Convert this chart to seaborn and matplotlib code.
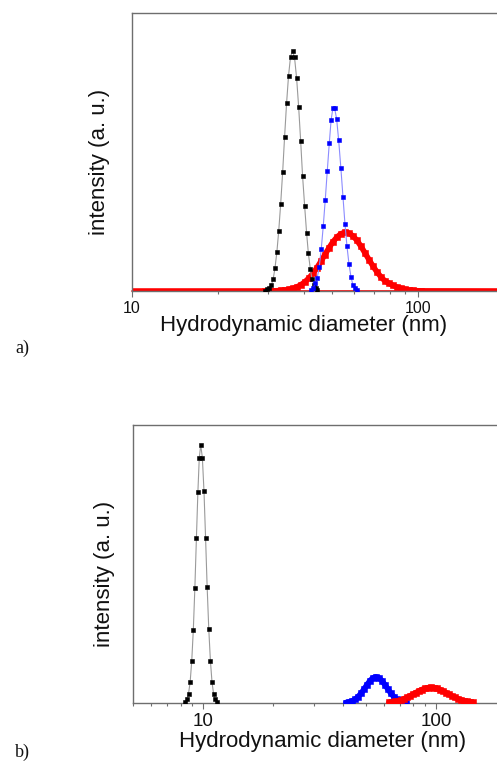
import numpy as np
import pandas as pd
import matplotlib
matplotlib.use("Agg")
import matplotlib.pyplot as plt
import seaborn as sns

# ---------------- data: panel a ----------------
black_a_d = [29.24, 29.72, 30.20, 30.69, 31.16, 31.62, 32.11, 32.60, 33.11, 33.64,
             34.17, 34.72, 35.28, 35.85, 36.43, 37.02, 37.65, 38.27, 38.89, 39.49,
             40.16, 40.81, 41.38, 42.02, 42.63, 43.30, 43.89, 44.53]
black_a_i = [0.1, 0.54, 0.97, 1.98, 4.21, 8.17, 13.96, 21.7, 31.3, 42.7,
             55.4, 67.5, 77.5, 84.3, 86.4, 84.0, 76.5, 66.2, 54.0, 41.5,
             30.6, 20.7, 13.6, 8.06, 4.21, 2.16, 0.9, 0.25]

blue_a_d = [42.36, 43.05, 43.74, 44.45, 45.18, 45.91, 46.66, 47.42, 48.19, 48.97,
            49.69, 50.40, 51.14, 51.97, 52.81, 53.75, 54.68, 55.56, 56.46, 57.38,
            58.31, 59.26, 60.23, 61.21]
blue_a_i = [0.3, 0.97, 2.9, 4.7, 8.8, 15.1, 23.4, 32.9, 43.2, 53.1,
            61.4, 65.7, 65.7, 61.8, 54.3, 44.4, 33.9, 24.2, 16.2, 9.8,
            5.1, 2.16, 0.9, 0.3]

red_a_d = [10.0, 29.17, 30.13, 31.12, 32.14, 33.19, 34.28, 35.40, 36.55, 37.75,
           38.99, 40.26, 41.58, 42.95, 44.36, 45.80, 47.30, 48.85, 50.45, 52.10,
           53.81, 55.57, 57.37, 59.26, 61.20, 63.18, 65.27, 67.41, 69.62, 71.89,
           74.24, 76.67, 79.18, 81.77, 84.45, 87.22, 90.05, 93.00, 96.05, 99.20,
           102.4, 200.0]
red_a_i = [0.0, 0.01, 0.03, 0.05, 0.10, 0.19, 0.33, 0.57, 0.93, 1.47,
           2.24, 3.29, 4.66, 6.37, 8.40, 10.68, 13.1, 15.5, 17.7, 19.4,
           20.6, 21.1, 20.8, 19.8, 18.2, 16.1, 13.7, 11.3, 8.95, 6.85,
           5.06, 3.6, 2.8, 2.0, 1.4, 0.95, 0.6, 0.35, 0.2, 0.1,
           0.05, 0.0]

# ---------------- data: panel b ----------------
black_b_d = [8.39, 8.52, 8.66, 8.80, 8.94, 9.08, 9.22, 9.36, 9.50, 9.63,
             9.77, 9.93, 10.09, 10.25, 10.41, 10.58, 10.75, 10.92, 11.09, 11.28,
             11.46]
black_b_i = [0.3, 1.3, 3.4, 7.6, 15.2, 26.4, 41.5, 59.2, 76.0, 88.2,
             92.8, 88.2, 76.1, 59.3, 41.7, 26.5, 15.2, 7.6, 3.35, 1.33,
             0.36]

blue_b_d = [41.09, 42.33, 43.61, 44.93, 46.27, 47.66, 49.09, 50.57, 52.09, 53.66,
            55.27, 56.93, 58.65, 60.41, 62.23, 64.11, 66.03, 68.02, 70.06, 72.18,
            74.33]
blue_b_i = [0.17, 0.37, 0.72, 1.32, 2.22, 3.45, 4.95, 6.56, 8.01, 9.03,
            9.4, 9.03, 8.01, 6.56, 4.95, 3.45, 2.22, 1.32, 0.72, 0.37,
            0.17]

red_b_d = [62.85, 64.75, 66.68, 68.69, 70.75, 72.89, 75.07, 77.33, 79.66, 82.06,
           84.53, 87.08, 89.71, 92.40, 95.17, 98.04, 100.99, 104.04, 107.15, 110.39,
           113.70, 117.13, 120.63, 124.26, 128.01, 131.87, 135.83, 139.96, 144.18]
red_b_i = [0.24, 0.37, 0.55, 0.80, 1.12, 1.52, 1.99, 2.54, 3.13, 3.74,
           4.33, 4.84, 5.25, 5.51, 5.6, 5.51, 5.25, 4.84, 4.33, 3.74,
           3.13, 2.54, 1.99, 1.52, 1.12, 0.80, 0.55, 0.37, 0.24]

xlims = [(10, 200), (5, 200)]
major_ticks = [[10, 100], [10, 100]]
tick_labels = [["10", "100"], ["10", "100"]]
xlabel = "Hydrodynamic diameter (nm)"
ylabel = "intensity (a. u.)"
panel_tags = ["a)", "b)"]

# ---------------- style ----------------
sns.set_theme(style="white")
plt.rcParams["font.family"] = ["Liberation Sans", "DejaVu Sans"]

W, H = 497, 765
fig = plt.figure(figsize=(W / 100, H / 100), dpi=100)
fig.patch.set_facecolor("white")

axA = fig.add_axes([132 / W, 1 - 291 / H, 372 / W, 278 / H])
axB = fig.add_axes([133 / W, 1 - 703 / H, 373 / W, 278 / H])

SPINE = "#6e6e6e"


def series(ax, d, i, line_color, mk_color, lw, ms, z=2):
    df = pd.DataFrame({"d": d, "i": i})
    sns.lineplot(data=df, x="d", y="i", ax=ax, color=line_color, lw=lw,
                 sort=False, estimator=None, zorder=z)
    pts = df[df["i"] > 0]
    sns.scatterplot(data=pts, x="d", y="i", ax=ax, marker="s", s=ms,
                    color=mk_color, edgecolor=mk_color, linewidth=0.4, zorder=z + 0.5)


# panel a
axA.plot([10, 200], [0, 0], color="#ff0000", lw=1.2, zorder=1.5, clip_on=False)
series(axA, red_a_d, red_a_i, "#ff0000", "#ff0000", 4.0, 22, z=2)
series(axA, black_a_d, black_a_i, "#9a9a9a", "#000000", 0.8, 10, z=3)
series(axA, blue_a_d, blue_a_i, "#8c8cff", "#0000ff", 0.8, 10, z=4)

# panel b
series(axB, black_b_d, black_b_i, "#9a9a9a", "#000000", 0.8, 10, z=3)
series(axB, blue_b_d, blue_b_i, "#0000ff", "#0000ff", 4.0, 22, z=3)
series(axB, red_b_d, red_b_i, "#ff0000", "#ff0000", 4.0, 22, z=3)

tick_sizes = [11.5, 13.5]
ylab_x = [-0.059, -0.048]
xlab_pos = [(0.46, -0.088), (0.507, -0.102)]

for k, ax in enumerate([axA, axB]):
    ax.set_xscale("log")
    ax.set_xlim(*xlims[k])
    ax.set_ylim(0, 100)
    ax.set_xticks(major_ticks[k])
    ax.set_xticklabels(tick_labels[k])
    ax.xaxis.set_minor_locator(matplotlib.ticker.LogLocator(base=10, subs=np.arange(2, 10)))
    ax.xaxis.set_minor_formatter(matplotlib.ticker.NullFormatter())
    ax.set_yticks([])
    ax.tick_params(axis="x", which="major", direction="out", length=4.3, width=0.8,
                   color=SPINE, pad=2.8, labelsize=tick_sizes[k], labelcolor="#111111",
                   bottom=True)
    ax.tick_params(axis="x", which="minor", direction="out", length=2.2, width=0.8,
                   color=SPINE, bottom=True)
    for s in ["left", "top", "bottom", "right"]:
        ax.spines[s].set_color(SPINE)
        ax.spines[s].set_linewidth(1.0)
    ax.set_xlabel(xlabel, fontsize=16, color="#111111")
    ax.set_ylabel(ylabel, fontsize=16, color="#111111")
    ax.xaxis.set_label_coords(*xlab_pos[k])
    ax.yaxis.set_label_coords(ylab_x[k], 0.464)
    ax.set_facecolor("white")

fig.text(15 / W, 1 - 348 / H, panel_tags[0], fontsize=13, family=["Liberation Serif"],
         va="center", ha="left", color="#111111")
fig.text(15 / W, 1 - 752 / H, panel_tags[1], fontsize=13, family=["Liberation Serif"],
         va="center", ha="left", color="#111111")

fig.savefig("out.png", dpi=100)
